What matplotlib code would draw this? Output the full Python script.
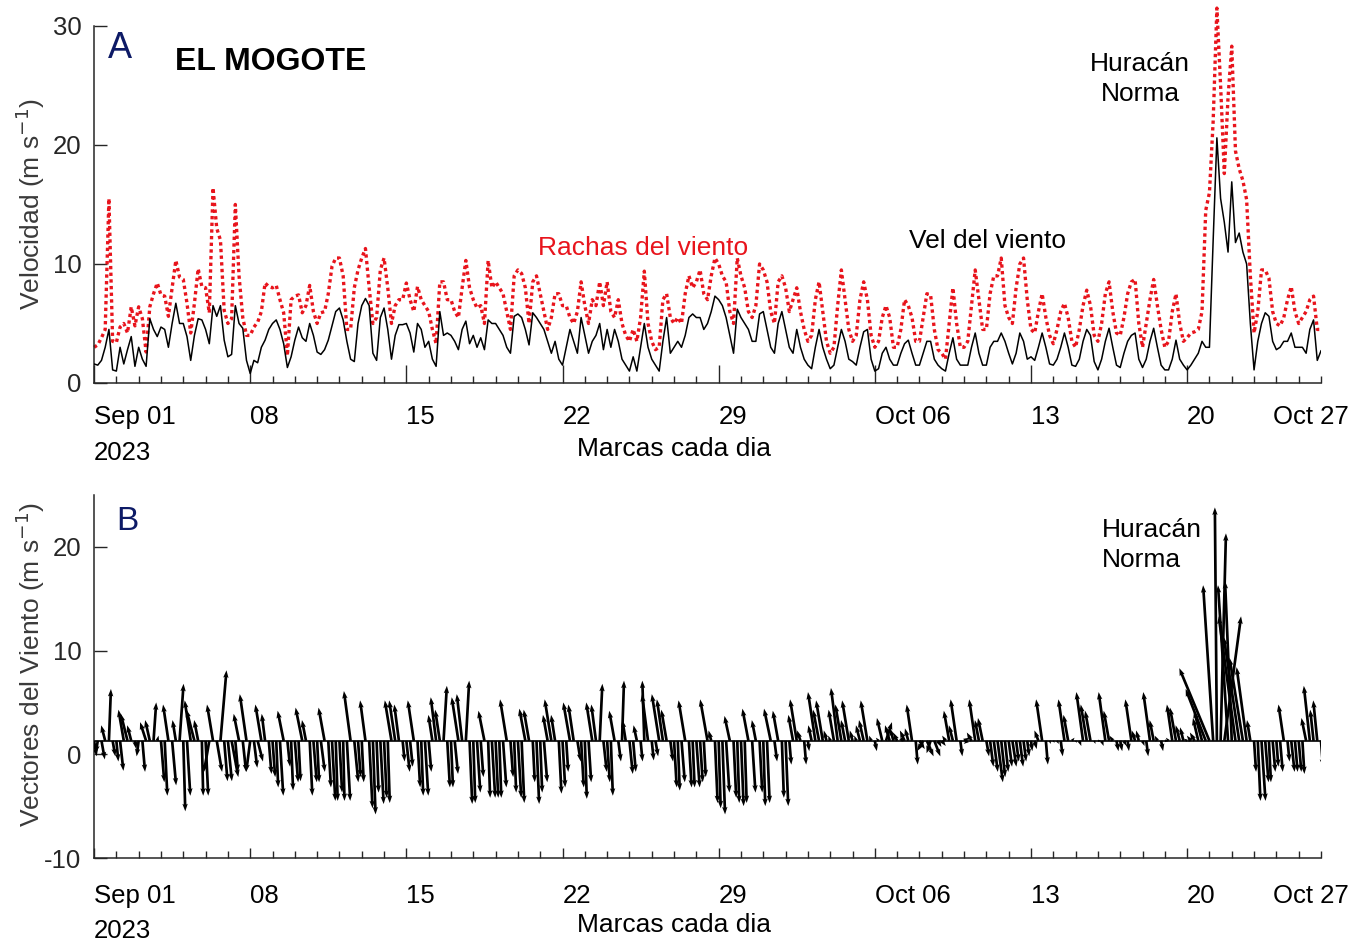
import matplotlib
matplotlib.use("Agg")  # headless
import matplotlib.pyplot as plt
import matplotlib.dates as mdates
from matplotlib.ticker import FixedLocator
import numpy as np
import pandas as pd

plt.rcParams['font.family'] = ['Liberation Sans', 'DejaVu Sans']
plt.rcParams['axes.unicode_minus'] = False

# ---- data (4-hourly samples from 2023-09-01 00:00) --------------------------
START = "2023-09-01"
STEP = "4h"
X_END = "2023-10-26"

# wind speed (m/s), black line
SPEED = [
    1.6, 1.5, 1.9, 3.0, 4.5, 1.1,
    1.0, 3.0, 1.6, 2.8, 3.9, 1.4,
    3.0, 2.0, 1.4, 5.4, 4.5, 3.9,
    4.7, 4.5, 3.0, 5.0, 6.7, 5.0,
    5.0, 3.9, 1.9, 4.0, 5.4, 5.3,
    4.5, 3.3, 6.5, 5.6, 6.5, 3.6,
    2.2, 2.4, 6.5, 5.0, 4.6, 1.9,
    0.8, 1.9, 1.7, 3.0, 3.6, 4.5,
    5.0, 5.3, 4.5, 3.3, 1.3, 2.2,
    3.6, 4.7, 3.8, 3.5, 5.0, 4.0,
    2.6, 2.4, 2.8, 3.6, 4.8, 6.0,
    6.3, 5.3, 3.5, 2.0, 1.8, 5.0,
    6.5, 7.1, 6.5, 2.5, 1.9, 5.5,
    6.3, 4.5, 2.0, 4.0, 4.9, 4.9,
    5.0, 4.2, 2.6, 5.0, 4.5, 3.0,
    3.5, 2.0, 1.4, 6.0, 4.0, 4.2,
    4.0, 3.5, 2.8, 4.5, 5.2, 3.3,
    4.0, 3.0, 3.8, 2.8, 5.3, 5.0,
    5.0, 4.5, 4.0, 3.0, 2.5, 5.6,
    5.8, 5.5, 4.5, 3.2, 5.9, 5.5,
    5.0, 4.5, 3.5, 2.5, 3.5, 2.0,
    1.5, 3.0, 4.5, 3.5, 2.5, 5.5,
    4.0, 2.5, 3.5, 4.0, 5.0, 2.8,
    4.5, 3.0, 4.5, 3.5, 2.0, 1.5,
    1.0, 2.2, 1.0, 3.0, 5.0, 3.0,
    2.0, 1.5, 1.0, 3.5, 5.5, 2.5,
    3.0, 3.5, 3.0, 4.0, 5.5, 5.8,
    5.5, 5.5, 4.5, 5.0, 6.0, 7.3,
    7.0, 6.5, 5.5, 4.0, 2.5, 6.2,
    5.5, 5.0, 4.5, 3.5, 3.5, 5.8,
    6.0, 4.5, 3.0, 2.5, 5.0, 6.0,
    4.5, 3.0, 2.5, 4.5, 3.0, 2.0,
    1.5, 1.2, 3.0, 4.5, 3.0, 2.0,
    1.2, 1.5, 3.0, 4.5, 3.5, 2.0,
    1.8, 1.5, 3.0, 4.3, 4.5, 2.0,
    1.0, 1.2, 2.5, 3.0, 2.0, 1.5,
    1.5, 2.5, 3.3, 3.6, 2.5, 1.5,
    1.5, 2.5, 3.5, 3.5, 2.0, 1.5,
    1.2, 1.0, 2.5, 3.8, 2.0, 1.5,
    1.5, 1.5, 3.0, 4.2, 2.5, 1.5,
    1.5, 3.0, 3.5, 3.5, 4.2, 3.5,
    2.5, 1.6, 2.5, 4.2, 3.5, 2.0,
    2.2, 1.9, 3.0, 4.2, 3.0, 1.6,
    1.5, 2.0, 3.0, 4.2, 3.0, 1.5,
    1.4, 2.0, 3.5, 4.5, 4.0, 1.8,
    1.1, 2.0, 3.5, 4.6, 3.0, 1.5,
    1.3, 2.5, 3.5, 4.0, 4.2, 2.0,
    1.3, 2.0, 3.5, 4.6, 3.0, 1.5,
    1.1, 1.1, 2.0, 3.6, 2.0, 1.5,
    1.1, 1.5, 2.0, 2.5, 3.5, 3.0,
    3.0, 12.0, 20.6, 15.5, 13.5, 11.0,
    16.9, 11.8, 12.6, 11.0, 10.0, 5.0,
    1.1, 3.5, 5.0, 5.9, 5.6, 3.5,
    2.8, 3.0, 3.5, 3.5, 4.2, 3.0,
    3.0, 3.0, 2.5, 4.5, 5.3, 1.9,
    2.7,
]

# wind gusts (m/s), red dotted line
GUST = [
    3.0, 3.2, 3.8, 4.5, 15.5, 3.5,
    3.4, 4.7, 5.0, 4.2, 6.4, 4.8,
    6.4, 5.4, 2.6, 6.4, 7.5, 8.4,
    7.4, 7.3, 5.6, 8.0, 10.3, 8.9,
    8.7, 6.7, 4.2, 6.7, 9.6, 8.1,
    8.0, 5.9, 16.4, 13.0, 12.0, 6.1,
    5.0, 5.4, 15.0, 9.0, 5.5, 4.0,
    4.0, 4.7, 5.1, 6.0, 8.4, 8.1,
    8.0, 8.2, 7.0, 5.9, 2.3, 7.0,
    7.3, 7.4, 5.9, 6.5, 8.2, 6.0,
    5.0, 5.9, 6.0, 7.5, 9.8, 10.5,
    10.5, 9.0, 4.5, 4.5, 8.0, 9.5,
    10.5, 11.3, 8.0, 5.0, 5.5, 9.5,
    10.5, 8.0, 5.0, 6.5, 7.0, 7.0,
    8.4, 7.0, 6.0, 8.1, 7.0, 6.5,
    6.0, 4.5, 3.3, 8.5, 8.5, 7.0,
    7.0, 6.0, 5.5, 8.0, 10.3, 8.0,
    7.0, 6.3, 6.5, 5.0, 10.3, 8.0,
    8.5, 8.0, 7.5, 6.0, 4.5, 9.0,
    9.5, 9.2, 8.0, 5.0, 8.5, 9.0,
    7.5, 6.0, 4.5, 5.5, 7.5, 7.5,
    6.5, 6.5, 5.5, 5.0, 6.0, 8.5,
    6.5, 5.0, 7.0, 6.5, 8.5, 6.5,
    8.5, 6.0, 5.5, 7.0, 5.0, 4.0,
    3.5, 4.5, 3.5, 5.5, 9.4, 5.0,
    3.5, 2.8, 3.0, 7.0, 7.5, 5.5,
    5.0, 5.5, 5.0, 7.5, 9.0, 8.0,
    8.5, 9.5, 7.5, 7.0, 9.0, 10.5,
    10.0, 9.0, 8.5, 6.0, 5.0, 10.5,
    9.0, 8.0, 6.0, 5.5, 6.5, 10.0,
    9.5, 8.5, 6.0, 5.0, 8.5, 9.0,
    8.0, 6.0, 7.0, 8.0, 6.0, 4.5,
    3.5, 4.0, 7.0, 8.5, 6.0, 3.5,
    2.5, 3.0, 6.5, 9.5, 7.0, 4.5,
    3.5, 4.0, 7.0, 8.5, 7.0, 4.0,
    3.0, 3.5, 5.5, 6.5, 5.5, 3.0,
    3.0, 4.5, 7.0, 6.5, 5.5, 3.5,
    3.5, 5.5, 7.5, 7.4, 4.5, 2.8,
    2.5, 2.0, 5.0, 8.0, 5.0, 3.0,
    3.0, 3.5, 6.5, 9.5, 7.0, 4.5,
    4.5, 7.5, 9.0, 9.0, 10.5, 6.5,
    5.5, 5.0, 8.0, 10.0, 10.5, 7.0,
    4.5, 4.2, 6.0, 7.5, 5.5, 4.0,
    3.3, 4.5, 6.0, 6.7, 5.5, 3.5,
    3.0, 4.5, 6.5, 7.8, 6.5, 4.0,
    3.5, 5.0, 7.5, 8.5, 6.0, 4.2,
    4.0, 5.5, 7.5, 8.5, 8.7, 5.0,
    3.0, 5.0, 7.0, 8.7, 6.5, 4.5,
    3.0, 3.5, 6.0, 7.5, 5.0, 3.5,
    3.8, 4.2, 4.3, 4.5, 6.0, 14.5,
    16.0, 22.0, 31.5, 25.0, 17.6, 24.0,
    28.3, 19.5, 18.0, 17.0, 15.4, 9.0,
    4.2, 6.0, 9.5, 9.5, 8.8, 6.0,
    5.0, 4.8, 5.5, 7.0, 8.1, 6.0,
    5.0, 5.5, 6.0, 7.0, 7.3, 4.5,
    4.5,
]

# wind vectors: north component (m/s)
STICK_V = [
    -1.5, -1.2, -1.8, 1.5, 5.0, -1.5,
    -2.0, -2.9, 3.0, 2.6, 1.5, -0.8,
    -1.5, -3.0, 1.8, 2.0, 3.7, 0.5,
    -4.0, -5.3, 3.5, -4.3, 2.0, 5.5,
    -6.8, -5.3, 3.9, 3.0, 2.0, -5.3,
    -5.3, -3.0, 3.5, -3.0, 6.8, -3.9,
    -3.9, -3.5, -3.0, 2.6, -3.0, 4.5,
    -3.0, -2.6, -2.0, 3.5, 2.6, -3.2,
    -3.5, -4.5, -5.3, 2.9, -2.5, -4.8,
    -4.0, -3.9, 3.2, 2.0, -5.3, -4.0,
    -4.0, -3.0, 3.2, -4.5, -5.8, -5.8,
    -5.0, -5.8, -5.8, 4.8, -4.0, -3.5,
    -4.0, 3.9, -6.5, -7.1, -5.0, -6.1,
    -5.5, -6.0, 3.9, 3.9, 3.5, -2.0,
    -3.0, -2.5, 3.9, -4.5, -5.3, -5.3,
    -3.0, 2.5, 4.2, 3.0, 5.3, -4.5,
    -4.5, -3.2, 4.2, 4.5, 5.8, -6.1,
    -6.0, -5.0, -3.5, 2.9, -5.5, -5.5,
    -5.5, -5.5, -4.5, 4.0, -3.5, -5.0,
    -5.5, -6.0, 3.1, 3.0, -4.0, -6.1,
    -5.0, -4.0, 2.5, 4.0, 2.5, -5.1,
    -4.5, -3.0, 3.7, 3.5, -2.0, -4.5,
    -5.6, -4.0, 3.7, 3.5, 5.5, -3.0,
    -4.0, -5.3, 2.9, -2.0, 5.8, 2.0,
    -3.2, -3.0, 1.5, -2.0, 5.8, 4.5,
    -1.9, -1.5, 4.5, 4.0, 3.0, -2.0,
    -4.5, -4.8, -4.0, 3.9, -4.5, -4.5,
    -4.5, -4.0, -3.5, 4.0, 1.0, -6.0,
    -6.5, -7.1, -5.0, 2.4, -5.5, -6.0,
    -6.3, -6.0, 3.1, -5.0, 2.0, -5.0,
    -6.3, -6.0, 3.1, -2.0, 2.9, -5.5,
    -6.3, -2.3, 2.5, 4.0, 1.0, -2.3,
    -1.0, 1.5, 4.7, 3.0, 3.9, 1.0,
    0.5, 3.0, 5.1, 3.5, 2.0, 3.9,
    1.0, 0.5, 1.5, 2.0, 3.9, 0.5,
    -1.0, 0.3, 2.2, 1.8, 1.5, 1.2,
    0.8, 0.5, 1.0, 1.2, 3.5, -2.3,
    -0.8, -1.0, -1.5, -1.2, -1.5, -0.6,
    -0.5, 0.5, 2.9, 1.5, 4.0, -1.5,
    0.3, -0.3, 0.8, 4.0, 2.0, 2.2,
    -1.5, -2.5, -3.0, -4.0, -3.5, -3.0,
    -2.5, -2.5, -2.0, -2.5, -2.0, -1.5,
    -1.0, -0.8, 1.0, 4.0, -2.3, -0.3,
    -0.2, -0.3, -1.5, 4.0, 2.5, 0.3,
    -0.2, -0.5, 4.7, 3.5, 2.9, -0.3,
    0.0, -0.5, 4.7, 2.9, 0.5, -1.0,
    -1.0, -0.5, -1.0, 4.0, 1.0, 1.0,
    -0.5, -1.5, 4.7, 2.0, 0.5, -1.0,
    0.0, 0.3, 3.5, 3.2, 1.5, 1.3,
    0.2, 0.5, 0.8, 2.2, 2.9, 5.0,
    7.0, 15.0, 22.5, 20.0, 12.0, 15.0,
    15.4, 12.0, 10.0, 8.0, 7.1, 2.0,
    -3.0, -5.8, -5.8, -4.0, -4.0, -3.0,
    -2.5, -3.0, 3.5, -2.0, -3.0, -3.0,
    -3.0, -3.2, 2.2, 5.3, 3.0, 3.9,
    -2.5,
]

# wind vectors: east component (m/s)
STICK_U = [
    0.4, -0.3, 0.5, -0.6, 0.3, 0.4,
    0.3, 0.5, -0.8, -1.0, -0.6, 0.2,
    -0.3, 0.4, -0.9, -0.7, 0.4, 0.2,
    0.5, 0.4, -0.8, 0.6, -0.5, 0.6,
    0.3, 0.5, -0.9, -1.2, -0.6, 0.2,
    0.4, -0.8, -0.9, 0.8, 0.9, 0.5,
    0.6, 1.0, 0.4, -0.8, 0.5, -1.0,
    -0.6, 0.5, 0.8, -0.9, -0.5, 0.4,
    0.4, 0.3, 0.5, -0.9, 0.4, 0.3,
    0.5, 0.3, -1.0, -0.6, 0.4, 0.5,
    0.3, 0.6, -0.9, 0.4, 0.5, 0.3,
    0.4, 0.2, 0.5, -1.0, 0.6, 0.4,
    0.3, -0.8, 0.5, 0.4, 0.3, 0.5,
    0.4, 0.3, -1.0, -0.9, -0.7, 0.3,
    0.5, 0.4, -0.9, 0.4, 0.3, 0.5,
    0.4, -0.6, -0.8, -0.7, 0.5, 0.4,
    0.3, 0.5, -1.0, -0.8, 0.5, 0.4,
    0.3, 0.5, 0.4, -0.9, 0.3, 0.5,
    0.4, 0.3, 0.5, -1.0, 0.4, 0.3,
    0.5, 0.4, -0.9, -0.8, 0.3, 0.4,
    0.3, 0.5, -0.7, -1.0, -0.6, 0.4,
    0.4, 0.3, -1.0, -0.8, 0.5, 0.4,
    0.3, 0.4, -0.9, -0.7, 0.4, 0.5,
    0.4, 0.3, -0.8, 0.4, 0.3, -0.5,
    0.5, 0.4, -0.5, 0.3, -0.3, -0.9,
    0.3, 0.4, -1.1, -0.9, -0.8, 0.4,
    0.4, 0.3, 0.5, -1.0, 0.4, 0.3,
    0.5, 0.4, 0.3, -1.1, -0.4, 0.4,
    0.3, 0.4, 0.5, -0.8, 0.4, 0.3,
    0.4, 0.3, -0.9, 0.5, -0.6, 0.4,
    0.3, 0.4, -1.0, 0.4, -0.8, 0.3,
    0.4, 0.3, -0.7, -1.0, -0.5, 0.3,
    0.2, -0.5, -1.1, -0.9, -1.0, -0.4,
    -0.3, -0.8, -1.0, -0.9, -0.6, -1.0,
    -0.4, -0.3, -0.6, -0.7, -1.0, -0.3,
    0.3, -0.4, -0.8, 0.9, -0.7, -0.5,
    -0.6, 0.5, -0.7, -0.5, -0.8, 0.3,
    0.8, -0.9, 1.0, -0.6, 0.9, 0.5,
    0.6, -0.5, -0.8, -0.6, -0.9, 0.3,
    0.8, -0.6, -0.7, -0.9, -0.6, -0.7,
    0.4, 0.5, 0.6, 0.8, 0.6, 0.5,
    0.5, 0.6, 0.4, 0.5, 0.4, 0.3,
    0.2, 0.3, -0.6, -0.9, 0.3, 0.2,
    0.2, 0.3, 0.3, -0.9, -0.7, 0.4,
    0.2, 0.3, -1.0, -0.9, -0.8, 0.2,
    0.5, 0.3, -1.0, -0.8, -0.5, 0.3,
    0.3, 0.4, 0.2, -0.9, -0.5, -0.4,
    0.3, 0.3, -1.0, -0.6, -0.4, 0.3,
    0.6, -0.4, -0.8, -0.9, -0.6, -0.5,
    -0.5, -0.6, -0.7, -0.8, -1.2, -3.0,
    -4.5, -1.5, -0.3, 0.8, 2.5, -1.5,
    -1.0, -2.5, -2.3, -2.0, -1.5, -0.5,
    0.3, 0.4, 0.6, 0.5, 0.3, 0.4,
    0.3, 0.4, -0.8, 0.3, 0.5, 0.4,
    0.4, 0.3, -0.7, -0.9, -0.5, -0.6,
    0.3,
]

STICK_BASE = 1.3       # baseline the vectors start from
U_TO_DAYS = 0.3        # east component -> days along the time axis

TICK_DATES = ["2023-09-01", "2023-09-08", "2023-09-15", "2023-09-22",
              "2023-09-29", "2023-10-06", "2023-10-13", "2023-10-20"]
TICK_LABELS = ["Sep 01\n2023", "08", "15", "22", "29", "Oct 06", "13", "20"]
END_LABEL = "Oct 27"

AXIS_COLOR = "#262626"
GUST_COLOR = "#e8141c"
PANEL_COLOR = "#0d1a66"

assert len(SPEED) == len(GUST) == len(STICK_V) == len(STICK_U)


# ---- helpers ----------------------------------------------------------------
def style_axes(ax, major_len, pad, ylabel, ylabel_y):
    for side in ("top", "right"):
        ax.spines[side].set_visible(False)
    for side in ("left", "bottom"):
        ax.spines[side].set_color(AXIS_COLOR)
        ax.spines[side].set_linewidth(1.1)

    tick_num = mdates.date2num(pd.to_datetime(TICK_DATES))
    ax.set_xlim(tick_num[0], mdates.date2num(pd.Timestamp(X_END)))
    ax.xaxis.set_major_locator(FixedLocator(tick_num))
    ax.xaxis.set_minor_locator(mdates.DayLocator())
    ax.set_xticklabels(TICK_LABELS, ha="left")
    for lab in ax.get_xticklabels():
        lab.set_linespacing(1.6)
    ax.tick_params(axis="x", which="major", direction="in", length=major_len,
                   width=1.0, pad=pad, labelsize=18.5, colors=AXIS_COLOR)
    ax.tick_params(axis="x", which="minor", direction="in", length=5,
                   width=1.0, colors=AXIS_COLOR)
    ax.tick_params(axis="y", direction="in", length=9.5, width=1.0, pad=9,
                   labelsize=18.5, colors=AXIS_COLOR)
    ax.tick_params(axis="x", labelcolor="black")

    ax.annotate(END_LABEL, xy=(1, 0), xycoords="axes fraction",
                xytext=(-7, -pad), textcoords="offset points",
                ha="center", va="top", fontsize=18.5, color="black")

    ax.set_xlabel("Marcas cada dia", fontsize=19, color="black")
    ax.xaxis.set_label_coords(0.473, -0.152)
    ax.set_ylabel(ylabel, fontsize=19, color="#3a3a3a")
    ax.yaxis.set_label_coords(-0.038, ylabel_y)


# ---- figure -----------------------------------------------------------------
times = pd.date_range(START, periods=len(SPEED), freq=STEP)
tnum = mdates.date2num(times)

fig = plt.figure(figsize=(13.61, 9.41), dpi=100)
ax_a = fig.add_axes([0.0691, 0.593, 0.9015, 0.3794])
ax_b = fig.add_axes([0.0691, 0.0882, 0.9015, 0.3858])

# panel A: speed and gusts
ax_a.plot(tnum, GUST, color=GUST_COLOR, lw=2.4, linestyle=(0, (1.0, 1.0)),
          clip_on=False, zorder=2)
ax_a.plot(tnum, SPEED, color="black", lw=1.1, zorder=3)
ax_a.set_ylim(0, 30)
ax_a.set_yticks([0, 10, 20, 30])
style_axes(ax_a, 13, 16, "Velocidad (m s$^{-1}$)", 0.5)

ax_a.text(0.0212, 0.938, "A", transform=ax_a.transAxes, ha="center",
          va="center", fontsize=26, color=PANEL_COLOR)
ax_a.text(0.066, 0.899, "EL MOGOTE", transform=ax_a.transAxes, ha="left",
          va="center", fontsize=23, fontweight="bold", color="black")
ax_a.text(0.8525, 0.852, "Huracán\nNorma", transform=ax_a.transAxes,
          ha="center", va="center", fontsize=19, linespacing=1.3)
ax_a.text(0.4474, 0.378, "Rachas del viento", transform=ax_a.transAxes,
          ha="center", va="center", fontsize=19, color=GUST_COLOR)
ax_a.text(0.7286, 0.398, "Vel del viento", transform=ax_a.transAxes,
          ha="center", va="center", fontsize=19, color="black")

# panel B: stick plot of wind vectors
u_days = np.array(STICK_U) * U_TO_DAYS
ax_b.hlines(STICK_BASE, tnum[0], tnum[-1], color="black", lw=1.2, zorder=2)
ax_b.quiver(tnum, np.full(len(tnum), STICK_BASE), u_days, STICK_V,
            angles="xy", scale_units="xy", scale=1, pivot="tail",
            color="black", width=0.0022, headwidth=2.0, headlength=2.8,
            headaxislength=2.5, minlength=0.5, zorder=3)
ax_b.set_ylim(-10, 25)
ax_b.set_yticks([-10, 0, 10, 20])
style_axes(ax_b, 7, 18.5, "Vectores del Viento (m s$^{-1}$)", 0.534)

ax_b.text(0.0269, 0.9256, "B", transform=ax_b.transAxes, ha="center",
          va="center", fontsize=24, color=PANEL_COLOR)
ax_b.text(0.8215, 0.862, "Huracán\nNorma", transform=ax_b.transAxes,
          ha="left", va="center", fontsize=19, linespacing=1.3)

fig.savefig("out.png", dpi=100)
